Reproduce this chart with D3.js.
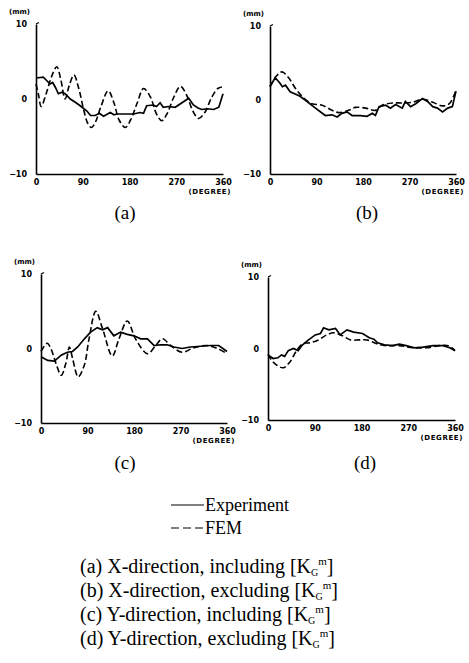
<!DOCTYPE html>
<html><head><meta charset="utf-8">
<script src="https://cdn.jsdelivr.net/npm/d3@7/dist/d3.min.js"></script>
<style>body{margin:0;background:#fff}svg{display:block}</style>
</head><body>
<svg id="c" width="469" height="663"></svg>
<script>
// ---- data (degree, mm) ----
const xTicks = [0, 90, 180, 270, 360];
const yTicks = [10, 0, -10];
const panelLabels = ["(a)", "(b)", "(c)", "(d)"];
const legendLabels = ["Experiment", "FEM"];
const captionPrefix = ["(a)", "(b)", "(c)", "(d)"];
const captionText = ["X-direction, including", "X-direction, excluding", "Y-direction, including", "Y-direction, excluding"];

const expA = [[0,2.8],[14,2.9],[20,2.5],[27,2.0],[32,2.2],[37,1.6],[43,0.7],[50,0.9],[56,0.7],[66,0],[75,-0.4],[85,-0.9],[98,-1.6],[105,-2.2],[114,-2.2],[122,-1.9],[130,-2.3],[143,-1.8],[150,-2.1],[156,-2.0],[170,-2.0],[188,-2.0],[200,-1.8],[207,-1.9],[213,-0.9],[226,-0.8],[232,-1.0],[239,-0.5],[245,-1.1],[255,-1.0],[268,-1.1],[281,-0.5],[294,0.1],[303,-0.8],[312,-1.2],[319,-1.4],[330,-1.3],[342,-1.4],[352,-1.1],[360,0.7]];
const femA = [[0,2.0],[5,0.5],[10,-1.0],[20,0.8],[30,3.0],[40,4.3],[48,2.5],[56,0.0],[64,1.8],[73,3.2],[82,1.5],[92,-1.5],[100,-3.3],[107,-3.8],[115,-3.0],[125,-1.0],[139,1.1],[150,-0.5],[160,-2.8],[172,-3.8],[182,-2.8],[195,-0.5],[207,1.4],[220,0.3],[232,-2.0],[242,-2.9],[252,-2.0],[265,0.2],[278,1.7],[290,0.5],[302,-1.6],[313,-2.6],[325,-1.8],[338,0.2],[350,1.4],[358,1.6]];

const expB = [[0,1.8],[10,3.0],[19,2.3],[24,1.8],[30,2.0],[39,1.1],[52,0.7],[58,0.5],[68,0],[88,-1.1],[107,-2.1],[120,-2.0],[130,-2.3],[139,-1.8],[149,-1.6],[159,-2.1],[175,-2.1],[188,-2.2],[198,-1.8],[204,-2.1],[211,-0.9],[224,-0.7],[233,-1.1],[243,-0.6],[256,-1.1],[262,-0.2],[272,-0.9],[282,-0.5],[295,0.2],[305,-0.2],[315,-0.9],[324,-1.1],[334,-1.6],[344,-1.1],[353,-0.9],[360,1.2]];
const femB = [[0,1.8],[12,3.2],[23,3.8],[36,3.0],[49,1.6],[62,0.5],[81,-0.5],[101,-0.7],[120,-1.4],[133,-1.7],[152,-1.4],[165,-1.0],[185,-1.1],[204,-1.4],[217,-0.7],[237,-0.4],[256,-0.4],[276,-0.3],[295,0.1],[315,-0.3],[334,-0.8],[347,-0.5],[359,1.1]];

const expC = [[0,-1.1],[13,-1.6],[26,-1.7],[39,-0.9],[51,-0.5],[61,-0.4],[71,0.2],[84,1.3],[96,2.2],[109,2.8],[119,2.5],[129,2.8],[141,1.7],[154,2.2],[167,1.9],[180,1.7],[193,1.3],[206,1.3],[219,0.4],[231,0.5],[244,0.5],[257,0.2],[273,0],[289,0.2],[309,0.3],[328,0.4],[344,0.4],[360,-0.4]];
const femC = [[0,-0.4],[12,0.7],[19,0],[29,-2.0],[39,-3.6],[48,-2.0],[55,0.2],[61,-1.3],[72,-3.8],[84,-2.2],[93,1.3],[106,5.0],[119,2.7],[138,-1.0],[151,1.3],[167,3.7],[183,1.3],[206,-0.7],[222,0.4],[235,1.3],[251,0.4],[273,-0.5],[296,0.1],[321,0.4],[341,0],[360,-0.7]];

const expD = [[0,-0.9],[10,-1.4],[19,-1.3],[26,-0.9],[32,-1.1],[39,-0.3],[49,0],[58,-0.3],[65,0.4],[78,1.2],[91,1.9],[101,2.1],[107,2.9],[117,2.6],[130,2.8],[139,1.9],[152,2.6],[165,2.3],[182,2.1],[195,1.5],[204,1.3],[211,0.8],[224,0.5],[240,0.4],[253,0.6],[266,0.4],[282,0.1],[298,0.2],[318,0.4],[337,0.4],[350,0.1],[360,-0.3]];
const femD = [[0,-0.8],[10,-1.9],[29,-2.7],[42,-1.9],[55,-0.3],[68,0.7],[81,0.8],[97,1.2],[113,1.9],[126,2.2],[143,1.8],[159,1.2],[175,1.2],[191,1.2],[208,0.7],[227,0.4],[253,0.4],[279,0.1],[305,0.1],[331,0.4],[347,0.4],[360,-0.3]];

const expSeries = [expA, expB, expC, expD];
const femSeries = [femA, femB, femC, femD];

// ---- layout ----
const boxes = [
  {x0:36, x1:223, y0:24, y1:174, lx:125, ly:219},
  {x0:270, x1:456, y0:26, y1:174, lx:367, ly:219},
  {x0:41, x1:227, y0:274, y1:423, lx:125, ly:469},
  {x0:268, x1:455, y0:277, y1:420, lx:365, ly:469}
];

const svg = d3.select("#c");
const smallFont = "'DejaVu Sans', sans-serif";
const serif = "'Liberation Serif', 'DejaVu Serif', serif";

boxes.forEach((b, i) => {
  const x = d3.scaleLinear().domain([0, 360]).range([b.x0, b.x1]);
  const y = d3.scaleLinear().domain([-10, 10]).range([b.y1, b.y0]);
  const g = svg.append("g");

  const ax = g.append("g").attr("transform", `translate(0,${b.y1})`)
    .call(d3.axisBottom(x).tickValues(xTicks).tickSize(0).tickPadding(5).tickFormat(d3.format("d")));
  const ay = g.append("g").attr("transform", `translate(${b.x0},0)`)
    .call(d3.axisLeft(y).tickValues(yTicks).tickSize(0).tickPadding(9).tickFormat(d3.format("d")));
  [ax, ay].forEach(a => {
    a.select(".domain").attr("stroke", "#000").attr("stroke-width", 1.6);
    a.selectAll("text").attr("font-family", smallFont).attr("font-weight", "bold")
      .attr("font-size", 8).attr("fill", "#000");
  });
  // small hook at top of y axis
  g.append("line").attr("x1", x(0)).attr("x2", x(0) + 3).attr("y1", y(10)).attr("y2", y(10) - 1.5)
    .attr("stroke", "#000").attr("stroke-width", 1.2);

  g.append("text").attr("x", x(0) - 6).attr("y", y(10) - 10).attr("text-anchor", "end")
    .attr("font-family", smallFont).attr("font-weight", "bold").attr("font-size", 7)
    .text("(mm)");
  g.append("text").attr("x", x(360) + 8).attr("y", b.y1 + 20).attr("text-anchor", "end")
    .attr("font-family", smallFont).attr("font-weight", "bold").attr("font-size", 7)
    .attr("letter-spacing", 0.6).text("(DEGREE)");

  const line = d3.line().x(d => x(d[0])).y(d => y(d[1]));
  g.append("path").datum(expSeries[i]).attr("d", line.curve(d3.curveLinear))
    .attr("fill", "none").attr("stroke", "#000").attr("stroke-width", 1.7);
  g.append("path").datum(femSeries[i]).attr("d", d3.line().x(d => x(d[0])).y(d => y(d[1])).curve(d3.curveCatmullRom))
    .attr("fill", "none").attr("stroke", "#000").attr("stroke-width", 1.6).attr("stroke-dasharray", "6,3");

  svg.append("text").attr("x", b.lx).attr("y", b.ly).attr("text-anchor", "middle")
    .attr("font-family", serif).attr("font-size", 19).text(panelLabels[i]);
});

// ---- legend ----
const legY = [505, 528];
legendLabels.forEach((lab, i) => {
  svg.append("line").attr("x1", 171).attr("x2", 204).attr("y1", legY[i]).attr("y2", legY[i])
    .attr("stroke", "#000").attr("stroke-width", 1.2).attr("stroke-dasharray", i ? "8,4" : null);
  svg.append("text").attr("x", 205).attr("y", legY[i] + 6).attr("font-family", serif)
    .attr("font-size", 18).text(lab);
});

// ---- caption ----
const capY = [573, 597, 621, 645];
captionText.forEach((t, i) => {
  const tx = svg.append("text").attr("x", 80).attr("y", capY[i]).attr("font-family", serif).attr("font-size", 20);
  tx.append("tspan").text(captionPrefix[i] + " " + t + " [K");
  tx.append("tspan").attr("font-size", 10).attr("dy", 3).text("G");
  tx.append("tspan").attr("font-size", 11).attr("dy", -11).text("m");
  tx.append("tspan").attr("dy", 8).text("]");
});
</script>
</body></html>
